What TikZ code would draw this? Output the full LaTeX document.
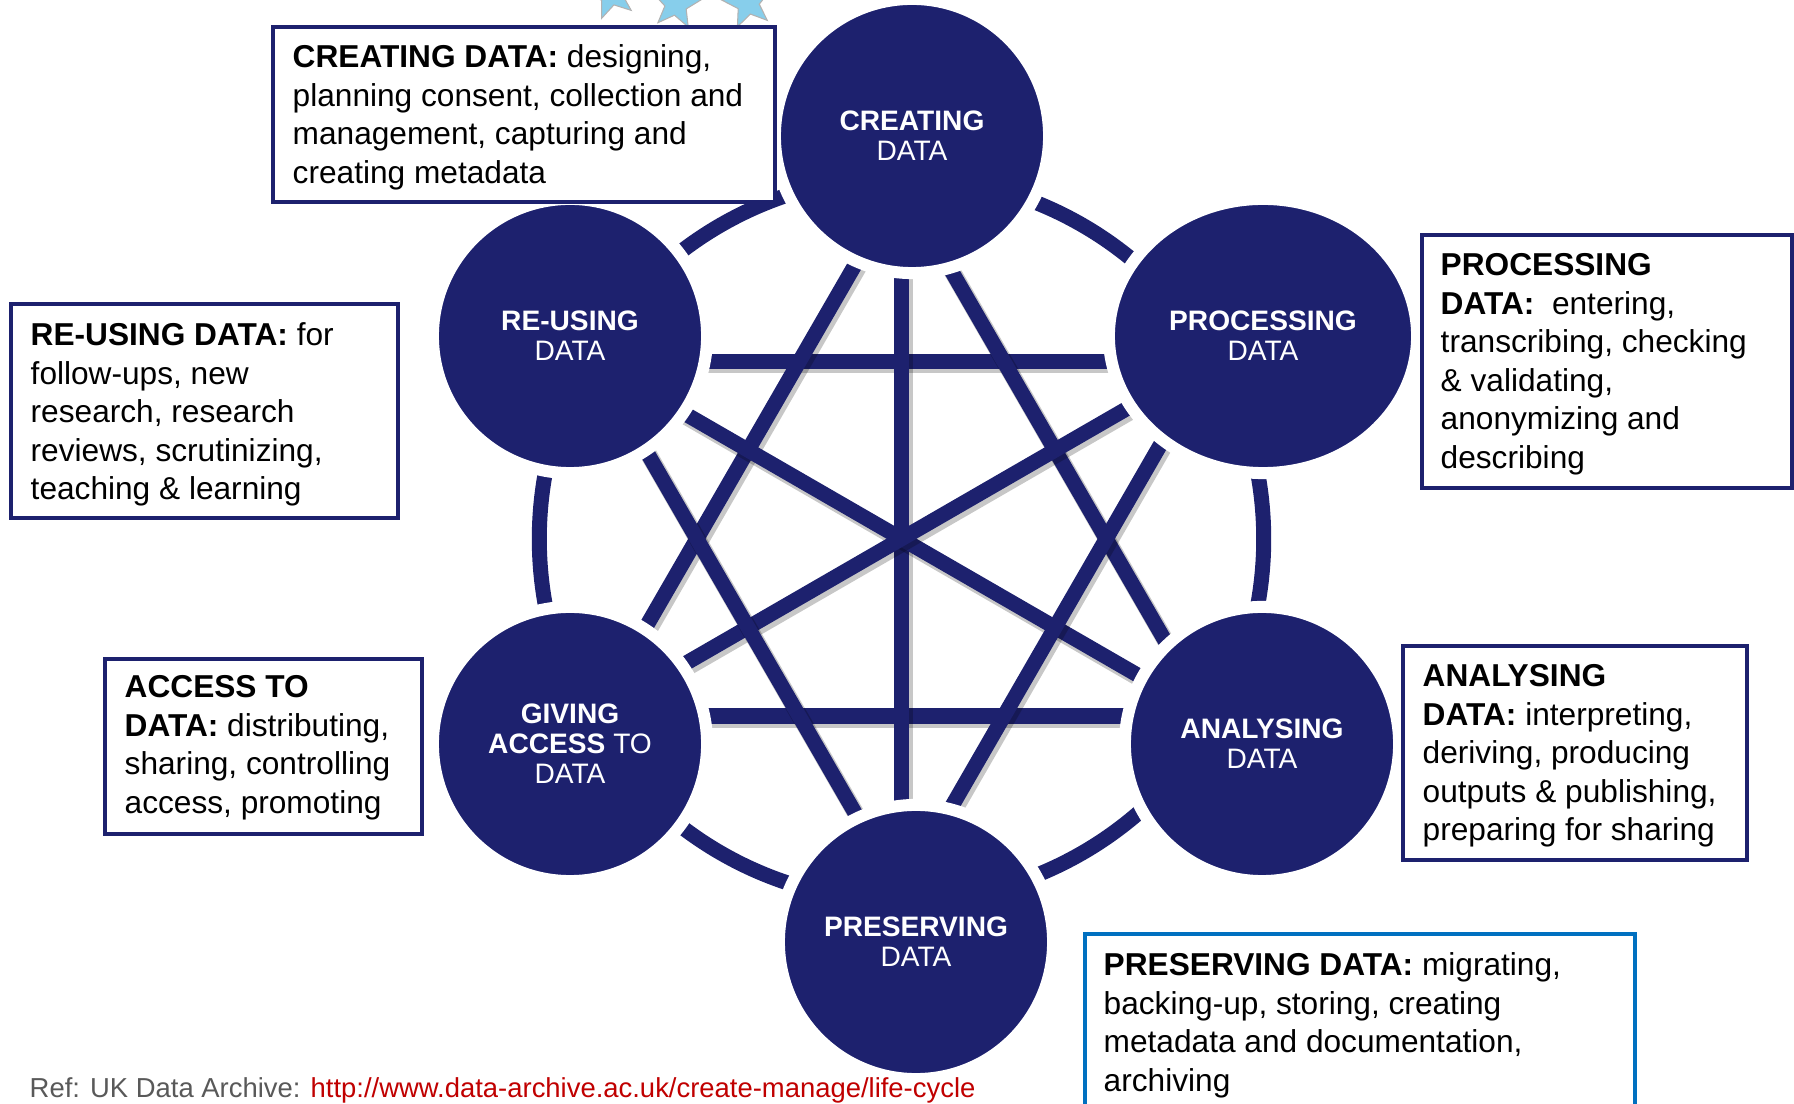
\documentclass[tikz,border=0pt]{standalone}
\usepackage{fontspec}
\setmainfont{Liberation Sans}
\usetikzlibrary{shapes.geometric}

\begin{document}
\begin{tikzpicture}
        [ x=0.01cm, y=-0.01cm
        , stage/.style={circle, fill=navy, draw=white, line width=0.12cm, minimum size=2.74cm, inner sep=0pt, text=white, align=center, font=\stagefont}
        , link/.style={draw=navy, line width=0.15cm, preaction={draw=black, opacity=0.22, line width=0.17cm, transform canvas={xshift=0.025cm, yshift=-0.035cm}}}
        , ring/.style={draw=navy, line width=0.15cm}
        , infobox/.style={draw=navy, line width=0.04cm, fill=white, anchor=north west, inner sep=0pt}
        , infotext/.style={anchor=north west, inner sep=0pt, align=left, font=\infofont}
        , deco/.style={star, star points=5, star point ratio=2.3, fill=starblue, draw=black!30, line width=0.3pt, minimum size=0.52cm, inner sep=0pt}
        ]
        \definecolor{navy}{RGB}{29,33,110}
        \definecolor{boxblue}{RGB}{0,112,192}
        \definecolor{starblue}{RGB}{135,206,235}
        \definecolor{refgray}{RGB}{89,89,89}
        \definecolor{refred}{RGB}{192,0,0}
        \newcommand{\infofont}{\fontsize{9}{10.96}\selectfont}
        \newcommand{\stagefont}{\fontsize{8}{8.5}\selectfont}
        \newcommand{\reffont}{\fontsize{7.8}{9}\selectfont}

        \useasboundingbox (0,0) rectangle (1794,1104);

        % ring and star
        \coordinate (hub) at (901.5,539);
        \coordinate (vt)  at (901.5,184.5);
        \coordinate (vur) at (1208.5,361.5);
        \coordinate (vlr) at (1208.5,716);
        \coordinate (vb)  at (901.5,893.5);
        \coordinate (vll) at (594.5,716);
        \coordinate (vul) at (594.5,361.5);

        \draw[ring] (hub) circle [radius=3.62cm];

        \draw[link] (vul) -- (vur);
        \draw[link] (vll) -- (vlr);
        \draw[link] (vt) -- (vb);
        \draw[link] (vt) -- (vll);
        \draw[link] (vt) -- (vlr);
        \draw[link] (vul) -- (vlr);
        \draw[link] (vur) -- (vll);
        \draw[link] (vul) -- (vb);
        \draw[link] (vur) -- (vb);

        % stages
        \node (creating)   [stage] at (912,136)  {\textbf{CREATING}\\DATA};
        \node (processing) [stage, ellipse, minimum width=3.08cm, minimum height=2.74cm] at (1263,336) {\textbf{PROCESSING}\\DATA};
        \node (analysing)  [stage] at (1262,744) {\textbf{ANALYSING}\\DATA};
        \node (preserving) [stage] at (916,942)  {\textbf{PRESERVING}\\DATA};
        \node (giving)     [stage] at (570,744)  {\textbf{GIVING}\\\textbf{ACCESS} TO\\DATA};
        \node (reusing)    [stage] at (570,336)  {\textbf{RE-USING}\\DATA};

        % stars at the top edge
        \node (st1) [deco, rotate=15] at (611,-6) {};
        \node (st2) [deco, rotate=-8] at (676,4) {};
        \node (st3) [deco, rotate=12] at (748,3) {};

        \node (ref) [anchor=base west, inner sep=0pt, font=\reffont, text=refgray] at (29,1097)
            {Ref: UK Data Archive: \textcolor{refred}{http://www.data-archive.ac.uk/create-manage/life-cycle}};

        % description boxes
        \node (crB) [infobox, minimum width=5.02cm, minimum height=1.75cm] at (271,25) {};
            \node (crT) [infotext] at (292,44) {\textbf{CREATING DATA:} designing,\\planning consent, collection and\\management, capturing and\\creating metadata};
        \node (prB) [infobox, minimum width=3.70cm, minimum height=2.53cm] at (1420,233) {};
            \node (prT) [infotext] at (1440,253) {\textbf{PROCESSING}\\\textbf{DATA:}~~entering,\\transcribing, checking\\\& validating,\\anonymizing and\\describing};
        \node (reB) [infobox, minimum width=3.87cm, minimum height=2.14cm] at (9,302) {};
            \node (reT) [infotext] at (30,322) {\textbf{RE-USING DATA:} for\\follow-ups, new\\research, research\\reviews, scrutinizing,\\teaching \& learning};
        \node (acB) [infobox, minimum width=3.17cm, minimum height=1.75cm] at (103,657) {};
            \node (acT) [infotext] at (124,675) {\textbf{ACCESS TO}\\\textbf{DATA:} distributing,\\sharing, controlling\\access, promoting};
        \node (anB) [infobox, minimum width=3.44cm, minimum height=2.14cm] at (1401,644) {};
            \node (anT) [infotext] at (1422,664) {\textbf{ANALYSING}\\\textbf{DATA:} interpreting,\\deriving, producing\\outputs \& publishing,\\preparing for sharing};
        \node (psB) [infobox, draw=boxblue, minimum width=5.50cm, minimum height=1.90cm] at (1083,932) {};
            \node (psT) [infotext] at (1103,952) {\textbf{PRESERVING DATA:} migrating,\\backing-up, storing, creating\\metadata and documentation,\\archiving};

\end{tikzpicture}
\end{document}
